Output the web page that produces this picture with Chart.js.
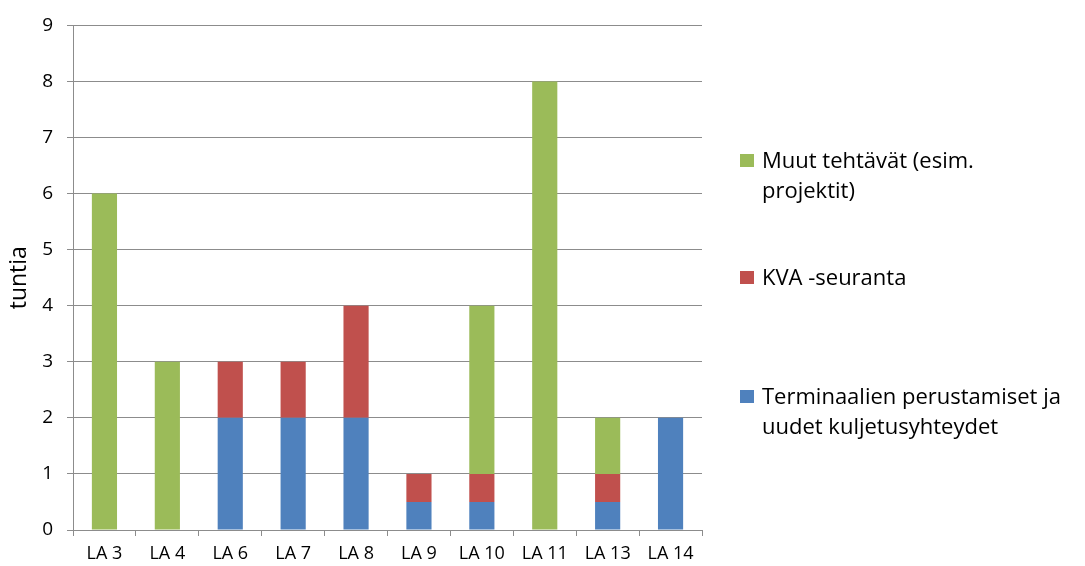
<!DOCTYPE html>
<html lang="fi">
<head>
<meta charset="utf-8">
<title>Työtunnit LA-kohteittain</title>
<script src="https://cdn.jsdelivr.net/npm/chart.js@4/dist/chart.umd.min.js"></script>
<style>
  html, body { margin: 0; padding: 0; background: #ffffff; }
  #wrap { position: relative; width: 1085px; height: 566px; }
  #legend { position: absolute; left: 0; top: 0; width: 1085px; height: 566px; pointer-events: none;
            font-family: "Open Sans", Lato, sans-serif; font-size: 22px; line-height: 30px; color: #000; }
  .item { position: absolute; left: 762px; white-space: nowrap; }
  .swatch { position: absolute; left: -22px; top: 10px; width: 14px; height: 13px; }
</style>
</head>
<body>
<div id="wrap">
  <canvas id="chart"></canvas>
  <div id="legend"></div>
</div>
<script>
// Categories and hours per task type
const categories = ['LA 3', 'LA 4', 'LA 6', 'LA 7', 'LA 8', 'LA 9', 'LA 10', 'LA 11', 'LA 13', 'LA 14'];
const terminaalit = [0, 0, 2, 2, 2, 0.5, 0.5, 0, 0.5, 2];
const kvaSeuranta = [0, 0, 1, 1, 2, 0.5, 0.5, 0, 0.5, 0];
const muutTehtavat = [6, 3, 0, 0, 0, 0, 3, 8, 1, 0];

const seriesNames = ['Terminaalien perustamiset ja uudet kuljetusyhteydet', 'KVA -seuranta', 'Muut tehtävät (esim. projektit)'];
const legendLines = [
  ['Terminaalien perustamiset ja', 'uudet kuljetusyhteydet'],
  ['KVA -seuranta'],
  ['Muut tehtävät (esim.', 'projektit)']
];
const colors = ['#4F81BD', '#C0504D', '#9BBB59'];
const yTicks = [0, 1, 2, 3, 4, 5, 6, 7, 8, 9];

const gridColor = '#8C8C8C';
const fontFamily = '"Open Sans", Lato, sans-serif';

const seriesData = [terminaalit, kvaSeuranta, muutTehtavat];

const chart = new Chart(document.getElementById('chart'), {
  type: 'bar',
  data: {
    labels: categories,
    datasets: seriesData.map((d, i) => ({
      label: seriesNames[i],
      data: d,
      backgroundColor: colors[i],
      borderWidth: 0,
      categoryPercentage: 1.0,
      barPercentage: 0.4
    }))
  },
  options: {
    responsive: true,
    maintainAspectRatio: false,
    animation: false,
    layout: { padding: { top: 21, right: 383, bottom: 0, left: 0 } },
    plugins: {
      legend: { display: false },
      tooltip: { enabled: false }
    },
    scales: {
      x: {
        stacked: true,
        grid: { drawOnChartArea: false, drawTicks: true, tickLength: 6, color: gridColor, offset: true },
        border: { display: true, color: gridColor, width: 1 },
        ticks: { color: '#000', font: { family: fontFamily, size: 18 }, padding: 7, maxRotation: 0, autoSkip: false },
        afterFit(scale) { scale.height = 36; }
      },
      y: {
        stacked: true,
        min: yTicks[0],
        max: yTicks[yTicks.length - 1],
        afterBuildTicks(scale) { scale.ticks = yTicks.map(v => ({ value: v })); },
        grid: { drawOnChartArea: true, drawTicks: true, tickLength: 6, color: gridColor },
        border: { display: true, color: gridColor, width: 1 },
        ticks: { color: '#000', font: { family: fontFamily, size: 19 }, padding: 14 },
        title: { display: true, text: 'tuntia', color: '#000', font: { family: fontFamily, size: 23 }, padding: { top: 6, bottom: 0 } },
        afterFit(scale) { scale.width = 73; }
      }
    }
  }
});

// Legend on the right, topmost series first
const legendEl = document.getElementById('legend');
const legendTops = [380, 261, 144];
[2, 1, 0].forEach(i => {
  const item = document.createElement('div');
  item.className = 'item';
  item.style.top = legendTops[i] + 'px';
  const sw = document.createElement('span');
  sw.className = 'swatch';
  sw.style.background = colors[i];
  item.appendChild(sw);
  legendLines[i].forEach((line, k) => {
    if (k > 0) item.appendChild(document.createElement('br'));
    item.appendChild(document.createTextNode(line));
  });
  legendEl.appendChild(item);
});
</script>
</body>
</html>
